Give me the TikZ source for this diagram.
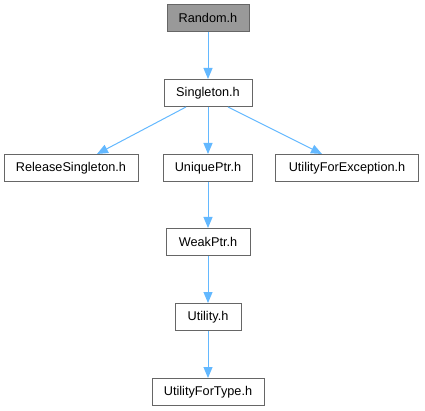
\documentclass[tikz,border=0pt]{standalone}
\usepackage{fontspec}
\setmainfont{Liberation Sans}
\usetikzlibrary{arrows.meta,calc}
\definecolor{nodeborder}{HTML}{666666}
\definecolor{rootfill}{HTML}{999999}
\definecolor{edgeblue}{HTML}{63B8FF}
\begin{document}
\begin{tikzpicture}[x=1pt,y=-1pt,
  file/.style={draw=nodeborder,fill=white,line width=1pt,minimum height=27pt,
    inner xsep=6pt,inner ysep=0pt,font=\fontsize{12.7}{14}\selectfont,anchor=center},
  root/.style={file,fill=rootfill},
  dep/.style={draw=edgeblue,line width=1pt,-{Triangle[length=11pt,width=9pt]}}]
  \useasboundingbox (0,0) rectangle (425,411);
  \node[root] (random)    at (208,18)  [minimum width=82pt] {Random.h};
  \node[file] (singleton) at (208,93)  [minimum width=88pt] {Singleton.h};
  \node[file] (release)   at (71,168)  [minimum width=134pt] {ReleaseSingleton.h};
  \node[file] (unique)    at (208,168) [minimum width=89pt] {UniquePtr.h};
  \node[file] (exception) at (347,168) [minimum width=143pt] {UtilityForException.h};
  \node[file] (weak)      at (208,242) [minimum width=84pt] {WeakPtr.h};
  \node[file] (utility)   at (208,317) [minimum width=66pt] {Utility.h};
  \node[file] (fortype)   at (208,392) [minimum width=112pt] {UtilityForType.h};
  \draw[dep] (random) -- (singleton);
  \draw[dep] ([xshift=-22pt]singleton.south) -- ([xshift=26pt]release.north);
  \draw[dep] (singleton) -- (unique);
  \draw[dep] ([xshift=20pt]singleton.south) -- ([xshift=-25pt]exception.north);
  \draw[dep] (unique) -- (weak);
  \draw[dep] (weak) -- (utility);
  \draw[dep] (utility) -- (fortype);
\end{tikzpicture}
\end{document}
